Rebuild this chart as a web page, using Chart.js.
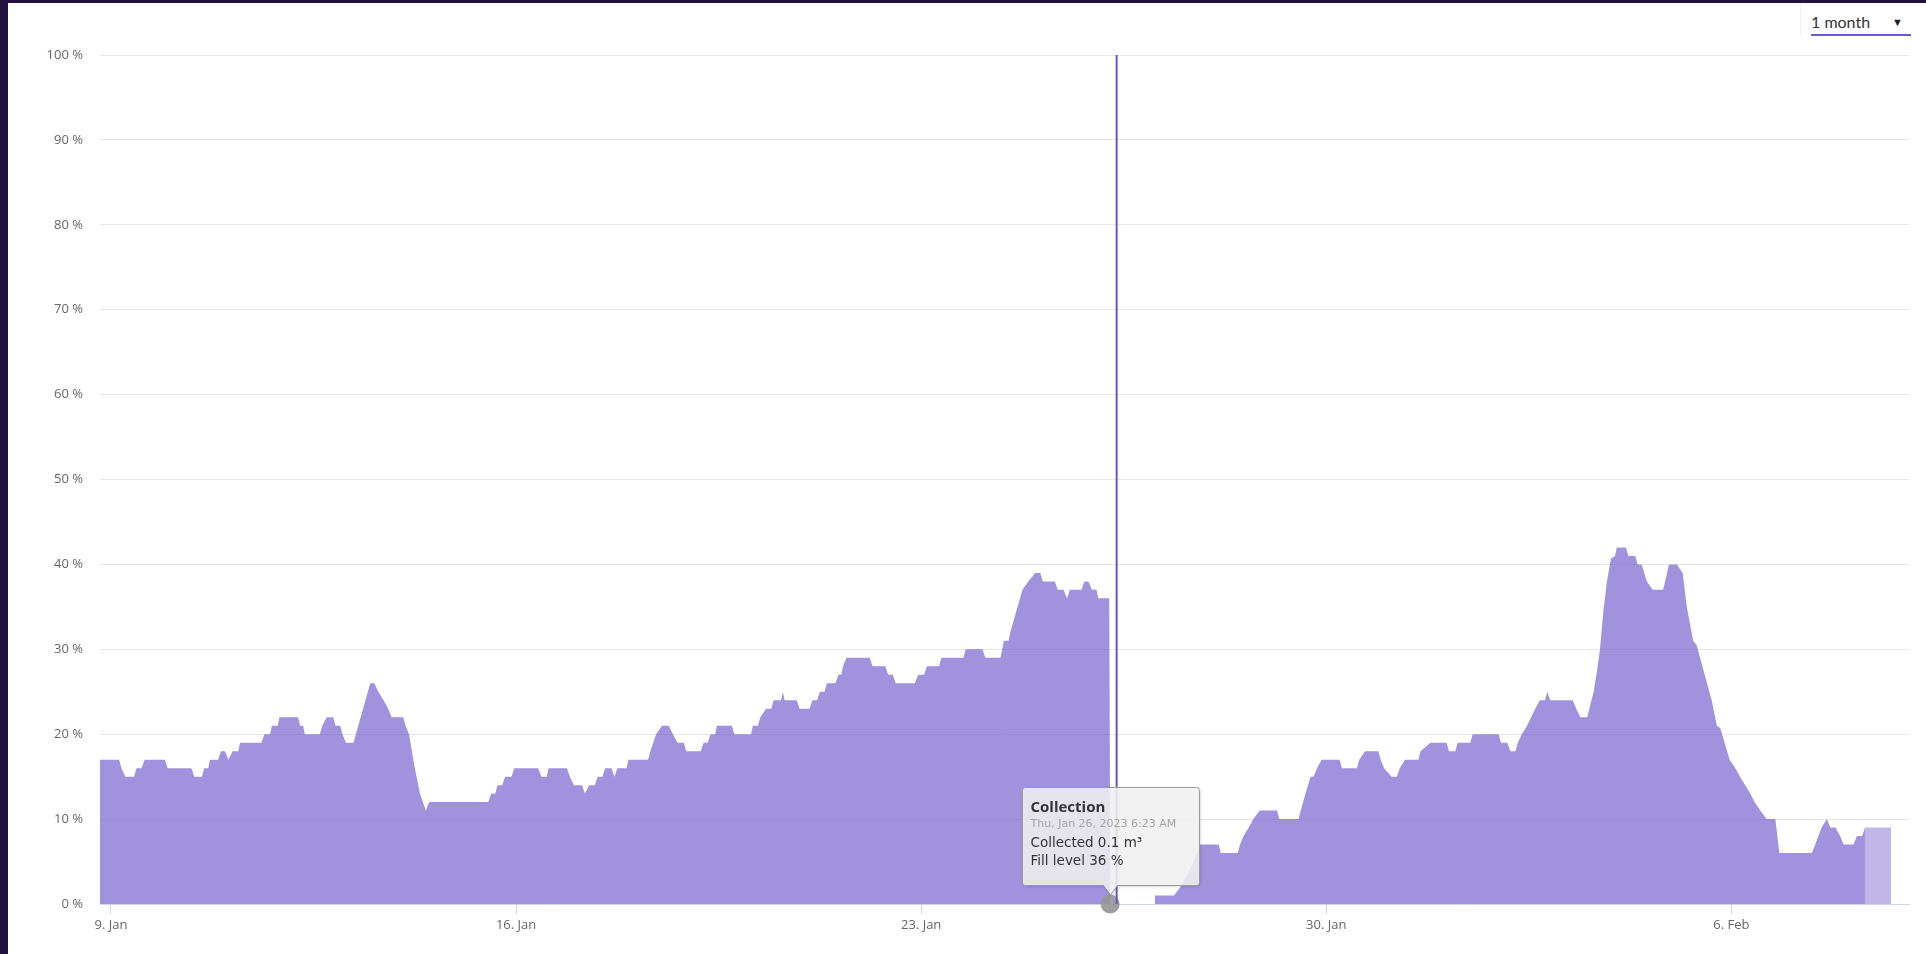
<!DOCTYPE html>
<html>
<head>
<meta charset="utf-8">
<script src="https://cdn.jsdelivr.net/npm/chart.js@4.4.1/dist/chart.umd.min.js"></script>
<style>
html,body{margin:0;padding:0;width:1926px;height:954px;overflow:hidden;background:#22123f;}
#panel{position:absolute;left:8px;top:3px;width:1918px;height:951px;background:#ffffff;}
#c{position:absolute;left:0;top:0;}
#sep{position:absolute;left:1800px;top:3px;width:1px;height:32px;background:#f0f0f0;}
#range{position:absolute;left:1811px;top:8px;width:100px;height:26px;border-bottom:2px solid #6a5acd;font-family:Lato,"Open Sans",sans-serif;font-size:16px;color:#333;line-height:28px;}
#range span.arr{position:absolute;left:81px;top:0;font-size:11px;color:#222;}
</style>
</head>
<body>
<div id="panel"></div>
<div id="sep"></div>
<div id="range">1 month<span class="arr">&#9660;</span></div>
<canvas id="c" width="1926" height="954"></canvas>
<script>
// ---- data (x in days since 9 Jan 2023 00:00) ----
const xMin = -0.19;
const xMax = 31.07;
const tickDays = [0, 7, 14, 21, 28];
const tickLabels = ["9. Jan", "16. Jan", "23. Jan", "30. Jan", "6. Feb"];
const yTicks = [0,10,20,30,40,50,60,70,80,90,100];

const fillDays = [
 -0.19,0.14,0.18,0.25,0.40,0.44,0.53,0.58,0.93,0.98,1.39,1.44,1.57,1.61,1.68,1.71,1.85,1.90,1.97,2.03,2.10,2.20,2.23,2.60,2.65,2.75,2.78,2.88,2.91,3.23,3.27,3.32,3.35,3.61,3.65,3.73,3.84,3.88,3.96,4.00,4.06,4.19,4.48,4.55,4.62,4.71,4.79,4.85,5.05,5.09,5.15,5.25,5.34,5.44,5.50,6.52,6.57,6.64,6.68,6.76,6.81,6.92,6.97,7.38,7.44,7.53,
 7.56,7.88,7.93,8.00,8.14,8.19,8.26,8.36,8.41,8.49,8.54,8.65,8.70,8.75,8.91,8.94,9.28,9.32,9.42,9.52,9.64,9.71,9.79,9.90,9.94,10.19,10.24,10.31,10.36,10.44,10.47,10.73,10.77,11.06,11.09,11.18,11.22,11.32,11.41,11.45,11.58,11.61,11.64,11.85,11.90,12.07,12.12,12.20,12.25,12.33,12.37,12.52,12.57,12.62,12.65,12.71,13.11,13.16,13.38,13.43,13.51,13.56,13.89,13.95,14.05,14.10,14.31,14.35,14.73,14.77,15.06,15.11,15.37,15.43,15.51,15.54,15.75,15.85,15.97,16.06,16.10,16.31,16.36,16.46,16.52,16.57,16.77,16.82,16.89,16.95,17.03,17.06,17.25,17.27,
 18.03,18.04,18.37,18.48,18.56,18.64,18.71,18.77,18.82,19.14,19.18,19.47,19.51,19.57,19.66,19.74,19.85,20.15,20.19,20.52,20.56,20.64,20.73,20.78,20.84,20.92,21.23,21.27,21.53,21.57,21.67,21.90,21.94,22.00,22.13,22.22,22.27,22.36,22.59,22.63,22.80,23.08,23.12,23.23,23.27,23.49,23.53,23.98,
 24.02,24.13,24.18,24.27,24.31,24.38,24.47,24.54,24.61,24.69,24.78,24.82,24.87,25.26,25.32,25.39,25.51,25.62,25.68,25.73,25.79,25.85,25.92,25.99,26.02,26.18,26.22,26.34,26.38,26.45,26.54,26.64,26.82,26.89,26.92,27.06,27.16,27.23,27.34,27.40,27.52,27.66,27.75,27.81,27.97,28.07,28.15,28.24,28.33,28.40,28.50,28.61,28.76,28.83,29.39,29.45,29.56,29.65,29.71,29.80,29.88,29.94,30.11,30.17,30.26,30.31
];
const fillLevels = [
 17,17,16,15,15,16,16,17,17,16,16,15,15,16,16,17,17,18,18,17,18,18,19,19,20,20,21,21,22,22,21,21,20,20,21,22,22,21,21,20,19,19,26,26,25,24,23,22,22,21,20,16,13,11,12,12,13,13,14,14,15,15,16,16,15,15,
 16,16,15,14,14,13,14,14,15,15,16,16,15,16,16,17,17,18,20,21,21,20,19,19,18,18,19,19,20,20,21,21,20,20,21,21,22,23,23,24,24,25,24,24,23,23,24,24,25,25,26,26,27,27,28,29,29,28,28,27,27,26,26,27,27,28,28,29,29,30,30,29,29,31,31,32,37,38,39,39,38,38,37,37,36,37,37,38,38,37,37,36,36,0,
 0,1,1,2,3,4,5,6,7,7,6,6,7,8,9,10,11,11,10,10,11,13,15,15,16,17,17,16,16,17,18,18,17,16,15,15,16,17,17,18,19,19,18,18,19,19,20,20,
 19,19,18,18,19,20,21,22,23,24,24,25,24,24,23,22,22,25,27.5,30,34.6,38,40.7,41,42,42,41,41,40,40,38,37,37,39,40,40,39,35,31,30.5,27.5,24,21,20.7,17,16,15,14,13,12,11,10,10,6,6,7,9,10,9,9,8,7,7,8,8,9
];
const forecastDays = [30.31, 30.76];
const forecastLevels = [9, 9];

const collectionDays = [17.266];
const collectionMarkY = [0];
const collectionTitle = ["Collection"];
const collectionDates = ["Thu, Jan 26, 2023 6:23 AM"];
const collectionVolumes = ["0.1 m\u00B3"];
const collectionFill = [36];

const cursorDays = [17.378];
const cursorRange = [0, 100];

// ---- build datasets ----
const mainPts = fillDays.map((d, i) => ({x: d, y: fillLevels[i]}));
const fcPts = forecastDays.map((d, i) => ({x: d, y: forecastLevels[i]}));
const collPts = collectionDays.map((d, i) => ({x: d, y: collectionMarkY[i]}));
const cursorPts = cursorRange.map(v => ({x: cursorDays[0], y: v}));

const FONT = '"Open Sans", "Liberation Sans", sans-serif';
const TIPFONT = '"DejaVu Sans", Verdana, sans-serif';

const tipPlugin = {
  id: 'collectionTip',
  afterDatasetsDraw(chart) {
    const ctx = chart.ctx;
    const xs = chart.scales.x, ys = chart.scales.y;
    const px = xs.getPixelForValue(collectionDays[0]);
    const py = ys.getPixelForValue(collectionMarkY[0]);
    const w = 177, h = 98, r = 3;
    const left = Math.round(px - 88) + 0.5;
    const bottom = Math.round(py - 19) + 0.5;
    const top = bottom - h;
    const tipX = Math.round(px) + 0.5, tipY = py - 9;
    ctx.save();
    ctx.beginPath();
    ctx.moveTo(left + r, top);
    ctx.lineTo(left + w - r, top);
    ctx.arcTo(left + w, top, left + w, top + r, r);
    ctx.lineTo(left + w, bottom - r);
    ctx.arcTo(left + w, bottom, left + w - r, bottom, r);
    ctx.lineTo(tipX + 7, bottom);
    ctx.lineTo(tipX, tipY);
    ctx.lineTo(tipX - 7, bottom);
    ctx.lineTo(left + r, bottom);
    ctx.arcTo(left, bottom, left, bottom - r, r);
    ctx.lineTo(left, top + r);
    ctx.arcTo(left, top, left + r, top, r);
    ctx.closePath();
    ctx.shadowColor = 'rgba(0,0,0,0.22)';
    ctx.shadowBlur = 3;
    ctx.shadowOffsetX = 1;
    ctx.shadowOffsetY = 1;
    ctx.fillStyle = 'rgba(247,247,247,0.85)';
    ctx.fill();
    ctx.shadowColor = 'transparent';
    ctx.lineWidth = 1;
    ctx.strokeStyle = '#9a9a9a';
    ctx.stroke();
    const tx = left + 8;
    ctx.textAlign = 'left';
    ctx.textBaseline = 'alphabetic';
    ctx.fillStyle = '#333333';
    ctx.font = 'bold 15px ' + FONT;
    ctx.fillText(collectionTitle[0], tx, top + 24.5);
    ctx.fillStyle = '#a4a4a4';
    ctx.font = '11px ' + TIPFONT;
    ctx.fillText(collectionDates[0], tx, top + 39.5);
    ctx.fillStyle = '#333333';
    ctx.font = '13.5px ' + TIPFONT;
    ctx.fillText('Collected ' + collectionVolumes[0], tx, top + 59);
    ctx.fillText('Fill level ' + collectionFill[0] + ' %', tx, top + 77.5);
    ctx.restore();
  }
};

new Chart(document.getElementById('c'), {
  type: 'line',
  data: {
    datasets: [
      {
        data: cursorPts, order: 1, borderColor: '#6453d2', borderWidth: 2,
        pointRadius: 0, fill: false, tension: 0
      },
      {
        type: 'scatter', data: collPts, order: 2, pointRadius: 9.5,
        pointBackgroundColor: 'rgba(150,150,150,0.92)', pointBorderWidth: 0,
        backgroundColor: 'rgba(150,150,150,0.92)', borderWidth: 0, clip: false
      },
      {
        data: fcPts, order: 3, fill: 'origin', backgroundColor: 'rgba(104,82,201,0.42)',
        borderColor: 'rgba(0,0,0,0)', borderWidth: 0, pointRadius: 0, tension: 0
      },
      {
        data: mainPts, order: 4, fill: 'origin', backgroundColor: 'rgba(104,82,201,0.63)',
        borderColor: 'rgba(0,0,0,0)', borderWidth: 0, pointRadius: 0, tension: 0
      }
    ]
  },
  options: {
    responsive: false,
    animation: false,
    devicePixelRatio: 1,
    events: [],
    layout: { padding: { left: 0, right: 17, top: 55, bottom: 0 } },
    plugins: { legend: { display: false }, tooltip: { enabled: false } },
    scales: {
      x: {
        type: 'linear', min: xMin, max: xMax,
        afterBuildTicks: s => { s.ticks = tickDays.map(v => ({ value: v })); },
        afterFit: s => { s.height = 50; },
        ticks: {
          autoSkip: false, maxRotation: 0, color: '#666666', padding: 3,
          font: { family: FONT, size: 13 },
          callback: (v, i) => tickLabels[i]
        },
        grid: { drawOnChartArea: false, drawTicks: true, tickLength: 10, color: '#ccd6eb' },
        border: { display: true, color: '#ccd6eb', width: 1 }
      },
      y: {
        min: 0, max: 100,
        afterBuildTicks: s => { s.ticks = yTicks.map(v => ({ value: v })); },
        afterFit: s => { s.width = 100; },
        ticks: {
          color: '#666666', padding: 17,
          font: { family: FONT, size: 13 },
          callback: v => v + ' %'
        },
        grid: { color: '#e6e6e6', drawTicks: false },
        border: { display: false }
      }
    }
  },
  plugins: [tipPlugin]
});
</script>
</body>
</html>
